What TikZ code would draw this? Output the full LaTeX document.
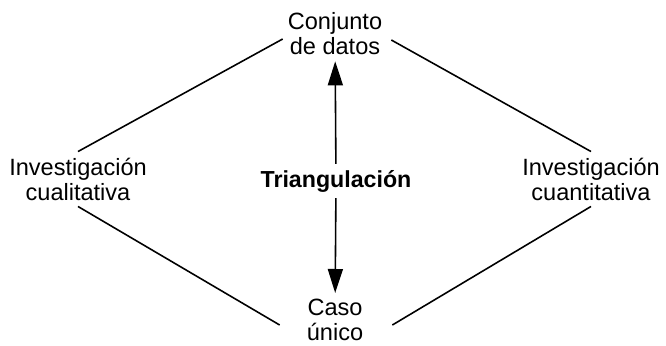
\documentclass[tikz,border=0pt]{standalone}
\usepackage{fontspec}
\setmainfont{Liberation Sans}
\usetikzlibrary{arrows.meta,calc}
\tikzset{
  mytext/.style={align=center, font=\fontsize{13.4}{14.2}\selectfont
  },
  mybold/.style={font=\fontsize{13.2}{14.2}\selectfont\bfseries
  },
  myline/.style={line width=0.9pt},
  myarrow/.style={-{Triangle[length=4.8mm, width=3mm]}, line width=0.9pt
  }
}

\begin{document}
\begin{tikzpicture}[x=0.02cm, y=-0.02cm]
 \useasboundingbox (0, 0) rectangle (666, 345);
 \node[mytext] (datos) at (335, 34) {Conjunto\\de datos};
 \node[mytext] (caso) at (335, 320) {Caso\\único};
 \node[mytext] (cuali) at (78, 179) {Investigación\\cualitativa};
 \node[mytext] (cuanti) at (591, 179) {Investigación\\cuantitativa};
 \node[mybold] (tri) at (336, 181) {Triangulación};

 \draw[myline] (cuali.north) -- ($(datos.west)+(1, 5)$);
 \draw[myline] (cuanti.north) -- ($(datos.east)+(3, 6)$);
 \draw[myline] (cuali.south) -- ($(caso.west)+(-21, 5)$);
 \draw[myline] (cuanti.south) -- ($(caso.east)+(23, 5)$);
 \draw[myarrow] (tri) -- (datos);
 \draw[myarrow] (tri) -- (caso);

\end{tikzpicture}
\end{document}
